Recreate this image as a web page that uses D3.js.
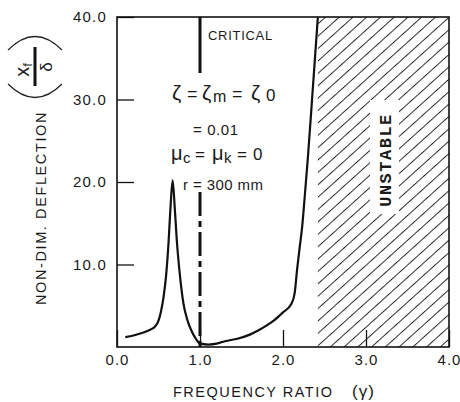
<!DOCTYPE html>
<html><head><meta charset="utf-8">
<script src="https://cdn.jsdelivr.net/npm/d3@7"></script>
<style>
body{margin:0;background:#fff;}
text{font-family:"Liberation Sans",Arial,Helvetica,sans-serif;fill:#1a1a1a;}
</style></head>
<body><svg id="c" width="460" height="402"></svg>
<script>
// ---- data ----
const gamma = [0.1,0.2,0.3,0.4,0.46,0.5,0.53,0.56,0.59,0.62,0.645,0.67,0.695,0.72,0.76,0.8,0.85,0.9,0.95,1.0,1.1,1.2,1.3,1.45,1.6,1.7,1.8,1.9,2.0,2.1,2.14,2.17,2.2,2.23,2.26,2.3,2.35,2.42];
const deflection = [1.2,1.4,1.7,2.1,2.5,3.2,4.3,6.0,8.5,12.5,17.0,20.2,17.0,13.0,8.5,5.3,3.2,1.9,1.0,0.4,0.3,0.4,0.7,1.0,1.5,2.0,2.6,3.3,4.2,5.2,6.5,9.4,12.0,14.5,18.0,23.0,30.0,40.0];
const xTickValues = [0,1,2,3,4];
const xTickLabels = ["0.0","1.0","2.0","3.0","4.0"];
const yTickValues = [10,20,30,40];
const yTickLabels = ["10.0","20.0","30.0","40.0"];
const criticalRatio = [1.0];
const unstableRange = [2.42,4.0];

const svg = d3.select("#c");
const x = d3.scaleLinear().domain([0,4]).range([117,449]);
const y = d3.scaleLinear().domain([0,40]).range([347,17]);

// hatch pattern
const defs = svg.append("defs");
defs.append("pattern").attr("id","hatch").attr("patternUnits","userSpaceOnUse")
  .attr("width",9.2).attr("height",9.2).attr("patternTransform","rotate(48)")
  .append("line").attr("x1",0.5).attr("y1",0).attr("x2",0.5).attr("y2",9.2)
  .attr("stroke","#222").attr("stroke-width",0.95);

// unstable region
svg.append("rect")
  .attr("x",x(unstableRange[0])).attr("y",y(40))
  .attr("width",x(unstableRange[1])-x(unstableRange[0]))
  .attr("height",y(0)-y(40)).attr("fill","url(#hatch)");
svg.append("rect").attr("x",370).attr("y",100).attr("width",29).attr("height",114).attr("fill","#fff");
svg.append("text").attr("transform","translate(391,160) rotate(-90)")
  .attr("text-anchor","middle")
  .style("font-family","'Courier New','Liberation Mono',monospace")
  .style("font-size","17px").style("letter-spacing","1.5px").style("font-weight","bold")
  .text("UNSTABLE");

// axes
const xAxis = d3.axisBottom(x).tickValues(xTickValues)
  .tickFormat((d,i)=>xTickLabels[i]).tickSizeInner(-17).tickSizeOuter(0).tickPadding(7);
const gx = svg.append("g").attr("transform",`translate(0,${y(0)})`).call(xAxis);
gx.select(".domain").remove();
gx.selectAll(".tick line").attr("stroke","#111").attr("stroke-width",1.3);
gx.selectAll(".tick text").style("font-size","15px").style("letter-spacing","1px")
  .style("font-family","'Liberation Sans',Arial,sans-serif").attr("fill","#1a1a1a");

const yAxis = d3.axisLeft(y).tickValues(yTickValues)
  .tickFormat((d,i)=>yTickLabels[i]).tickSizeInner(-17).tickSizeOuter(0).tickPadding(10);
const gy = svg.append("g").attr("transform",`translate(${x(0)},0)`).call(yAxis);
gy.select(".domain").remove();
gy.selectAll(".tick line").attr("stroke","#111").attr("stroke-width",1.3);
gy.selectAll(".tick text").style("font-size","15px").style("letter-spacing","1.2px")
  .style("font-family","'Liberation Sans',Arial,sans-serif").attr("fill","#1a1a1a");

// frame
svg.append("rect").attr("x",x(0)).attr("y",y(40)).attr("width",x(4)-x(0)).attr("height",y(0)-y(40))
  .attr("fill","none").attr("stroke","#111").attr("stroke-width",1.6);

// critical line
svg.append("line").attr("x1",x(criticalRatio[0])).attr("x2",x(criticalRatio[0]))
  .attr("y1",y(40)).attr("y2",73).attr("stroke","#111").attr("stroke-width",3);
svg.append("line").attr("x1",x(criticalRatio[0])).attr("x2",x(criticalRatio[0]))
  .attr("y1",192).attr("y2",y(0)).attr("stroke","#111").attr("stroke-width",3)
  .attr("stroke-dasharray","24,5,6,5");
svg.append("text").attr("x",208).attr("y",40).style("font-size","13px").style("letter-spacing","0.7px")
  .text("CRITICAL");

// curve
const line = d3.line().x((d,i)=>x(gamma[i])).y(d=>y(d)).curve(d3.curveMonotoneX);
svg.append("path").datum(deflection).attr("d",line).attr("fill","none")
  .attr("stroke","#111").attr("stroke-width",2.2).attr("stroke-linejoin","round");

// annotations
function piece(parent, px, py, str, size){
  parent.append("text").attr("x",px).attr("y",py).style("font-size",size+"px").text(str);
}
const ann = svg.append("g");
piece(ann,172,100,"ζ",21); piece(ann,187,100,"=",18);
piece(ann,202,100,"ζ",21); piece(ann,213,102,"m",16);
piece(ann,232,100,"=",18); piece(ann,251,100,"ζ",21); piece(ann,266,101,"0",17);

svg.append("text").attr("x",193).attr("y",135).style("font-size","15px").style("letter-spacing","0.6px").text("= 0.01");

piece(ann,171,160,"μ",20); piece(ann,183,163,"c",15);
piece(ann,195,160,"=",17); piece(ann,212,160,"μ",20); piece(ann,224,163,"k",15);
piece(ann,237,160,"=",17); piece(ann,253,160,"0",17);

svg.append("text").attr("x",183).attr("y",190).style("font-size","15px").style("letter-spacing","0.4px").text("r = 300 mm");

// x axis title
svg.append("text").attr("x",173).attr("y",397).style("font-size","14.5px").style("letter-spacing","1.5px")
  .text("FREQUENCY RATIO");
svg.append("text").attr("x",352).attr("y",397).style("font-size","17px").style("letter-spacing","1px").text("(γ)");

// y axis title
svg.append("text").attr("transform","translate(46,208) rotate(-90)").attr("text-anchor","middle")
  .style("font-size","14.5px").style("letter-spacing","1.6px").text("NON-DIM. DEFLECTION");

// fraction symbol (xf / δ), rotated
const fr = svg.append("g").attr("transform","translate(35,67) rotate(-90)");
fr.append("line").attr("x1",-19).attr("x2",20).attr("y1",0).attr("y2",0).attr("stroke","#111").attr("stroke-width",3);
const num = fr.append("text").attr("x",-3).attr("y",-6).attr("text-anchor","middle").style("font-size","20px");
num.append("tspan").text("x");
num.append("tspan").attr("dy",3).style("font-size","13px").text("f");
fr.append("text").attr("x",0).attr("y",17).attr("text-anchor","middle").style("font-size","17px").text("δ");
fr.append("path").attr("d","M-17,-27 Q-44,0 -17,27").attr("fill","none").attr("stroke","#222").attr("stroke-width",1.2);
fr.append("path").attr("d","M17,-27 Q44,0 17,27").attr("fill","none").attr("stroke","#222").attr("stroke-width",1.2);
</script></body></html>
